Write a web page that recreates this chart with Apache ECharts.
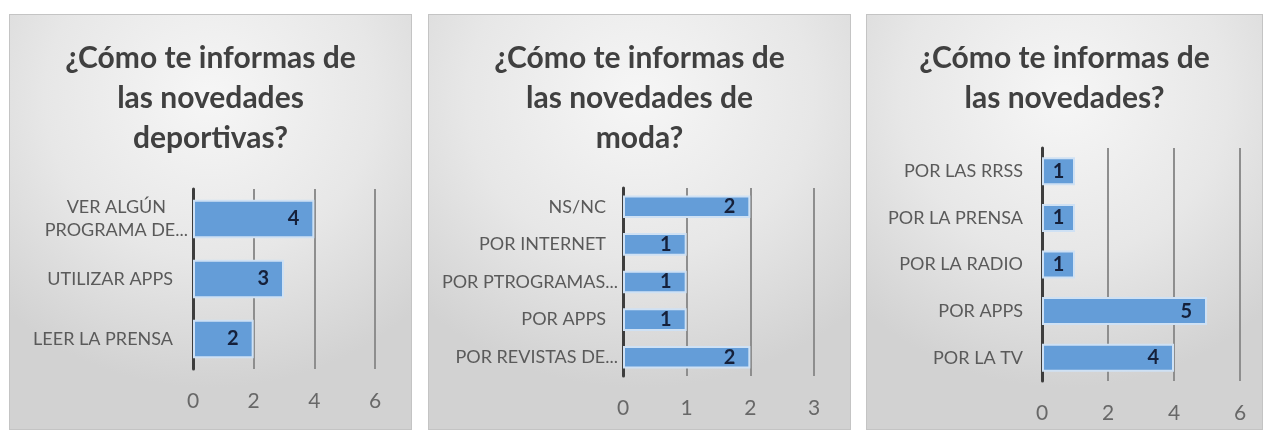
<!DOCTYPE html>
<html>
<head>
<meta charset="utf-8">
<script src="https://cdn.jsdelivr.net/npm/echarts@6/dist/echarts.min.js"></script>
<style>
	body { margin: 0; background: #fff; width: 1263px; height: 434px; position: relative; overflow: hidden; }
	.panel {
		position: absolute;
		top: 14px;
		height: 416px;
		box-sizing: border-box;
		border: 1px solid #c4c4c4;
		background: radial-gradient(ellipse 75% 70% at 50% 20%, #f6f6f6 0%, #e7e7e7 55%, #d2d2d2 100%);
	}
</style>
</head>
<body>
<div id="chart1" class="panel" style="left:9px;width:403px"></div>
<div id="chart2" class="panel" style="left:428px;width:423px"></div>
<div id="chart3" class="panel" style="left:866px;width:397px"></div>
<script>
// deportivas
const sportsTitle = "¿Cómo te informas de\nlas novedades\ndeportivas?";
const sportsCategories = ["LEER LA PRENSA", "UTILIZAR APPS", "VER ALGÚN\nPROGRAMA DE..."];
const sportsValues = [2, 3, 4];
const sportsTicks = { max: 6, interval: 2 };

// moda
const fashionTitle = "¿Cómo te informas de\nlas novedades de\nmoda?";
const fashionCategories = ["POR REVISTAS DE...", "POR APPS", "POR PTROGRAMAS...", "POR INTERNET", "NS/NC"];
const fashionValues = [2, 1, 1, 1, 2];
const fashionTicks = { max: 3, interval: 1 };

// general
const newsTitle = "¿Cómo te informas de\nlas novedades?";
const newsCategories = ["POR LA TV", "POR APPS", "POR LA RADIO", "POR LA PRENSA", "POR LAS RRSS"];
const newsValues = [4, 5, 1, 1, 1];
const newsTicks = { max: 6, interval: 2 };

const FONT = "Lato";

// Excel lets the "..." hang closer to the axis, so plain labels get a spacer
function categoryLabel(value) {
	const lines = value.split("\n");
	if (lines.length > 1) return lines.map(l => `{c|${l}}`).join("\n");
	if (value.endsWith("...")) return `{t|${value}}`;
	return `{t|${value}}{s| }`;
}

function makeOption(title, categories, values, ticks, grid, gap, spacer) {
	// short bars get their label centred, like Excel does
	const barData = values.map(v => {
		const px = v / ticks.max * grid.width;
		return px < 45 ? { value: v, label: { position: "inside" } } : v;
	});
	return {
		animation: false,
		title: {
			text: title,
			left: "center",
			top: 18,
			textStyle: {
				fontFamily: FONT,
				fontSize: 30,
				fontWeight: "bold",
				color: "#404040",
				lineHeight: 40
			}
		},
		grid: grid,
		xAxis: {
			type: "value",
			min: 0,
			max: ticks.max,
			interval: ticks.interval,
			axisLine: { show: false },
			axisTick: { show: false },
			splitLine: { lineStyle: { color: "#8e8e8e", width: 2 } },
			axisLabel: {
				fontFamily: FONT,
				fontSize: 21,
				color: "#686868",
				margin: 22
			}
		},
		yAxis: {
			type: "category",
			data: categories,
			axisLine: { lineStyle: { color: "#3d3d3d", width: 3 } },
			axisTick: { show: false },
			axisLabel: {
				interval: 0,
				margin: 5,
				formatter: categoryLabel,
				rich: {
					t: { fontFamily: FONT, fontSize: 18, color: "#5a5a5a" },
					c: { fontFamily: FONT, fontSize: 18, color: "#5a5a5a", align: "center", lineHeight: 23 },
					s: { width: spacer }
				}
			}
		},
		series: [{
			type: "bar",
			data: barData,
			barCategoryGap: gap,
			itemStyle: {
				color: "#649dd8",
				borderColor: "#cfe1f4",
				borderWidth: 2
			},
			label: {
				show: true,
				position: "insideRight",
				distance: 15,
				fontFamily: FONT,
				fontSize: 20,
				fontWeight: "bold",
				color: "#15203a"
			}
		}]
	};
}

const chart1 = echarts.init(document.getElementById("chart1"));
chart1.setOption(makeOption(sportsTitle, sportsCategories, sportsValues, sportsTicks,
	{ left: 183, width: 182, top: 174, height: 180 }, "36%", 15));

const chart2 = echarts.init(document.getElementById("chart2"));
chart2.setOption(makeOption(fashionTitle, fashionCategories, fashionValues, fashionTicks,
	{ left: 194, width: 191, top: 173, height: 188 }, "40%", 12));

const chart3 = echarts.init(document.getElementById("chart3"));
chart3.setOption(makeOption(newsTitle, newsCategories, newsValues, newsTicks,
	{ left: 175, width: 198, top: 133, height: 233 }, "40%", 14));

window.onresize = () => { chart1.resize(); chart2.resize(); chart3.resize(); };
</script>
</body>
</html>
